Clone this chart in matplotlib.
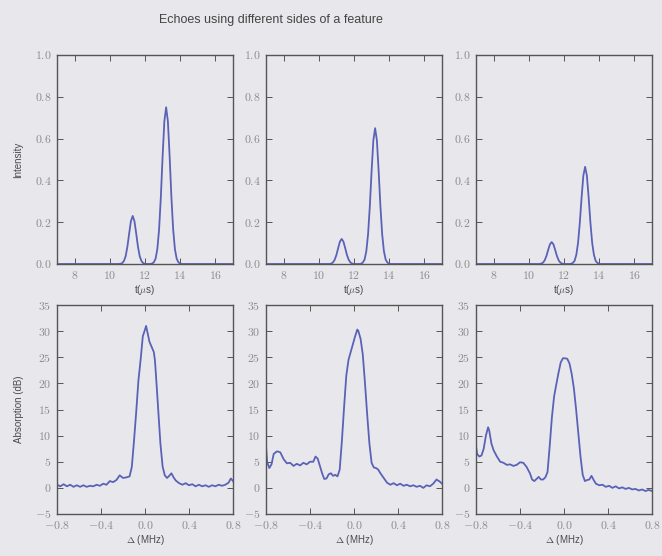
import matplotlib
matplotlib.use("Agg")
import matplotlib.pyplot as plt
from matplotlib.ticker import FixedLocator, FuncFormatter

# ---- echo intensity traces (time in microseconds) ----
t_us = [7.0, 10.5, 10.6, 10.7, 10.8, 10.9, 11.0, 11.1, 11.2, 11.3, 11.4, 11.5,
        11.6, 11.7, 11.8, 11.9, 12.0, 12.1, 12.2, 12.3, 12.4, 12.5, 12.6, 12.7,
        12.8, 12.9, 13.0, 13.1, 13.2, 13.3, 13.4, 13.5, 13.6, 13.7, 13.8, 13.9,
        14.0, 14.1, 17.0]

echo_a = [0.0, 0.0, 0.001, 0.004, 0.014, 0.037, 0.083, 0.146, 0.205, 0.230, 0.205,
          0.146, 0.083, 0.037, 0.014, 0.004, 0.001, 0.0, 0.0, 0.0, 0.002, 0.008,
          0.025, 0.071, 0.165, 0.320, 0.514, 0.683, 0.750, 0.683, 0.514, 0.320,
          0.165, 0.071, 0.025, 0.008, 0.002, 0.0, 0.0]

echo_b = [0.0, 0.0, 0.0, 0.002, 0.007, 0.020, 0.043, 0.076, 0.107, 0.120, 0.107,
          0.076, 0.043, 0.020, 0.007, 0.002, 0.0, 0.0, 0.0, 0.0, 0.001, 0.007,
          0.021, 0.061, 0.143, 0.278, 0.445, 0.592, 0.650, 0.592, 0.445, 0.278,
          0.143, 0.061, 0.021, 0.007, 0.001, 0.0, 0.0]

echo_c = [0.0, 0.0, 0.0, 0.002, 0.006, 0.017, 0.038, 0.067, 0.094, 0.105, 0.094,
          0.067, 0.038, 0.017, 0.006, 0.002, 0.0, 0.0, 0.0, 0.0, 0.001, 0.005,
          0.015, 0.044, 0.102, 0.199, 0.319, 0.423, 0.465, 0.423, 0.319, 0.199,
          0.102, 0.044, 0.015, 0.005, 0.001, 0.0, 0.0]

# ---- absorption spectra (detuning in MHz, absorption in dB) ----
det_a = [-0.80, -0.77, -0.74, -0.71, -0.68, -0.65, -0.62, -0.59, -0.56, -0.53,
         -0.50, -0.47, -0.44, -0.41, -0.38, -0.35, -0.32, -0.29, -0.26, -0.23,
         -0.20, -0.17, -0.14, -0.12, -0.10, -0.08, -0.06, -0.04, -0.02, 0.00,
         0.01, 0.02, 0.04, 0.06, 0.08, 0.09, 0.10, 0.12, 0.14, 0.16, 0.18, 0.20,
         0.22, 0.24, 0.26, 0.28, 0.31, 0.34, 0.37, 0.40, 0.43, 0.46, 0.49, 0.52,
         0.55, 0.58, 0.61, 0.64, 0.67, 0.70, 0.73, 0.76, 0.78, 0.80]
abs_a = [0.6, 0.3, 0.7, 0.3, 0.6, 0.2, 0.5, 0.2, 0.5, 0.2,
         0.4, 0.3, 0.6, 0.4, 0.8, 0.6, 1.3, 1.1, 1.5, 2.4,
         1.9, 2.0, 2.2, 4.0, 9.0, 14.5, 20.5, 24.5, 29.0, 30.3,
         31.0, 30.0, 28.0, 27.0, 26.0, 24.5, 21.5, 15.0, 8.5, 4.1, 2.4, 1.9,
         2.3, 2.8, 2.0, 1.4, 0.9, 0.6, 0.9, 0.5, 0.7, 0.3, 0.6, 0.3,
         0.5, 0.2, 0.5, 0.3, 0.6, 0.4, 0.6, 1.0, 1.8, 1.3]

det_b = [-0.80, -0.79, -0.77, -0.75, -0.73, -0.70, -0.67, -0.64, -0.61, -0.58,
         -0.55, -0.52, -0.49, -0.46, -0.43, -0.40, -0.37, -0.35, -0.33, -0.31,
         -0.29, -0.27, -0.25, -0.23, -0.21, -0.19, -0.17, -0.15, -0.13, -0.11,
         -0.09, -0.07, -0.05, -0.03, -0.01, 0.01, 0.03, 0.04, 0.06, 0.08, 0.10,
         0.12, 0.14, 0.16, 0.18, 0.20, 0.22, 0.24, 0.26, 0.28, 0.30, 0.33, 0.36,
         0.39, 0.42, 0.45, 0.48, 0.51, 0.54, 0.57, 0.60, 0.63, 0.66, 0.69, 0.72,
         0.75, 0.78, 0.80]
abs_b = [8.0, 5.0, 3.8, 4.5, 6.5, 7.0, 6.8, 5.5, 4.7, 4.8,
         4.2, 4.6, 4.3, 4.8, 4.5, 5.0, 5.0, 6.0, 5.6, 4.2,
         2.8, 1.7, 1.8, 2.6, 2.8, 2.3, 2.5, 2.2, 3.5, 9.0,
         15.5, 21.5, 24.5, 26.0, 27.5, 29.0, 30.3, 30.0, 28.5, 25.5, 20.0,
         14.0, 8.5, 4.8, 3.9, 3.8, 3.5, 2.8, 2.2, 1.6, 1.0, 0.6, 0.9,
         0.5, 0.8, 0.4, 0.6, 0.3, 0.5, 0.2, 0.4, 0.0, 0.5, 0.3, 0.8,
         1.6, 1.2, 0.8]

det_c = [-0.80, -0.79, -0.77, -0.75, -0.73, -0.71, -0.69, -0.68, -0.66, -0.64,
         -0.61, -0.58, -0.55, -0.52, -0.49, -0.46, -0.43, -0.40, -0.37, -0.34,
         -0.31, -0.29, -0.27, -0.25, -0.23, -0.21, -0.19, -0.17, -0.15, -0.13,
         -0.11, -0.09, -0.07, -0.05, -0.03, -0.01, 0.01, 0.03, 0.05, 0.07, 0.09,
         0.11, 0.13, 0.15, 0.17, 0.19, 0.21, 0.23, 0.25, 0.27, 0.29, 0.32, 0.35,
         0.38, 0.41, 0.44, 0.47, 0.50, 0.53, 0.56, 0.59, 0.62, 0.65, 0.68, 0.71,
         0.74, 0.77, 0.80]
abs_c = [8.0, 6.5, 6.0, 6.2, 7.5, 10.0, 11.6, 11.0, 8.5, 7.2,
         6.0, 5.0, 4.8, 4.4, 4.5, 4.2, 4.4, 4.9, 4.8, 4.0,
         2.8, 1.6, 1.3, 1.7, 2.1, 1.6, 1.6, 2.0, 3.0, 8.0,
         13.5, 17.5, 19.8, 22.0, 24.0, 24.8, 24.8, 24.7, 23.8, 21.8, 19.0,
         15.0, 10.5, 6.0, 2.5, 1.3, 1.5, 1.6, 2.3, 1.5, 0.8, 0.5, 0.6,
         0.2, 0.4, 0.0, 0.3, -0.1, 0.1, -0.2, 0.0, -0.3, -0.2, -0.5, -0.3,
         -0.6, -0.4, -0.6]

t_ticks = [8, 10, 12, 14, 16]
intensity_ticks = [0.0, 0.2, 0.4, 0.6, 0.8, 1.0]
det_ticks = [-0.8, -0.4, 0.0, 0.4, 0.8]
abs_ticks = [-5, 0, 5, 10, 15, 20, 25, 30, 35]

echoes = [echo_a, echo_b, echo_c]
spectra = [(det_a, abs_a), (det_b, abs_b), (det_c, abs_c)]

# ---- styling ----
BG = "#e8e8ec"
LINE = "#5a62b8"
SPINE = "#555555"
TICKTXT = "#8c8c8c"
LABEL = "#4a4a4a"

plt.rcParams["mathtext.fontset"] = "cm"
plt.rcParams["font.family"] = ["Liberation Sans", "DejaVu Sans"]

fig = plt.figure(figsize=(6.62, 5.56), dpi=100, facecolor=BG)

lefts = [57 / 662, 266 / 662, 476 / 662]
width = 176 / 662
top_bottom, top_height = 1 - 264 / 556, 209 / 556
bot_bottom, bot_height = 1 - 514 / 556, 209 / 556


def fmt_one(v, pos):
    return r"$%.1f$" % v


def fmt_int(v, pos):
    return r"$%d$" % round(v)


def style(ax):
    ax.set_facecolor(BG)
    for s in ax.spines.values():
        s.set_color(SPINE)
        s.set_linewidth(1.0)
    ax.tick_params(direction="in", top=True, right=True, length=4, width=0.7,
                   color=SPINE, labelcolor=TICKTXT, labelsize=8.5, pad=4)


for i in range(3):
    ax = fig.add_axes([lefts[i], top_bottom, width, top_height])
    style(ax)
    ax.plot(t_us, echoes[i], color=LINE, lw=1.3)
    ax.set_xlim(7, 17)
    ax.set_ylim(0, 1.0)
    ax.xaxis.set_major_locator(FixedLocator(t_ticks))
    ax.yaxis.set_major_locator(FixedLocator(intensity_ticks))
    ax.xaxis.set_major_formatter(FuncFormatter(fmt_int))
    ax.yaxis.set_major_formatter(FuncFormatter(fmt_one))
    ax.set_xlabel(r"t($\mu$s)", fontsize=7, color=LABEL, labelpad=1)
    if i == 0:
        ax.set_ylabel("Intensity", fontsize=7, color=LABEL, labelpad=8)

for i in range(3):
    ax = fig.add_axes([lefts[i], bot_bottom, width, bot_height])
    style(ax)
    d, a = spectra[i]
    ax.plot(d, a, color=LINE, lw=1.3)
    ax.set_xlim(-0.8, 0.8)
    ax.set_ylim(-5, 35)
    ax.xaxis.set_major_locator(FixedLocator(det_ticks))
    ax.yaxis.set_major_locator(FixedLocator(abs_ticks))
    ax.xaxis.set_major_formatter(FuncFormatter(fmt_one))
    ax.yaxis.set_major_formatter(FuncFormatter(fmt_int))
    ax.set_xlabel(r"$\Delta$ (MHz)", fontsize=7, color=LABEL, labelpad=1)
    if i == 0:
        ax.set_ylabel("Absorption (dB)", fontsize=7, color=LABEL, labelpad=8)

fig.suptitle("Echoes using different sides of a feature", x=0.41, y=0.975,
             fontsize=9, color="#444444")

fig.savefig("out.png", dpi=100, facecolor=BG)
